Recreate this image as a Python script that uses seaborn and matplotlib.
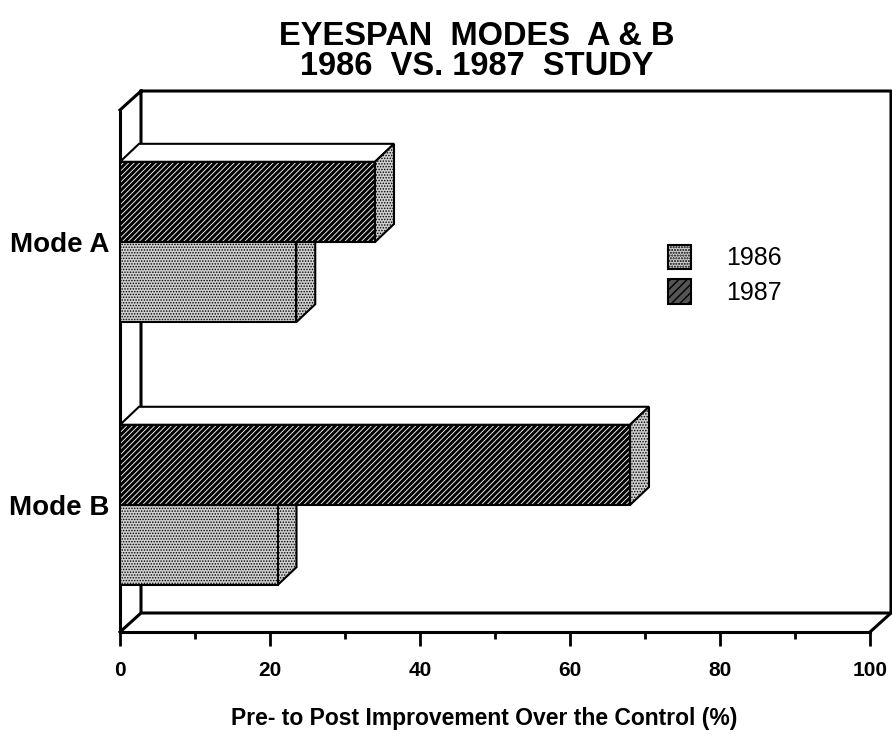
import matplotlib
matplotlib.use("Agg")
import matplotlib.pyplot as plt
import seaborn as sns
import pandas as pd
import numpy as np
from matplotlib.patches import Polygon, Patch
from matplotlib.lines import Line2D

# ---- data ----
modes = ["Mode A", "Mode B"]
years = ["1987", "1986"]
values_1986 = [23.5, 21.0]
values_1987 = [34.0, 68.0]
x_ticks = [0, 20, 40, 60, 80, 100]
title = "EYESPAN  MODES  A & B\n1986  VS. 1987  STUDY"
xlabel = "Pre- to Post Improvement Over the Control (%)"

df = pd.DataFrame({
    "mode": modes * 2,
    "year": ["1986"] * 2 + ["1987"] * 2,
    "value": values_1986 + values_1987,
})

sns.set_style("white")
plt.rcParams["font.family"] = ["Liberation Sans", "DejaVu Sans"]
plt.rcParams["hatch.linewidth"] = 1.0
for k in ["text.color", "axes.labelcolor", "xtick.color", "ytick.color"]:
    plt.rcParams[k] = "black"

fig = plt.figure(figsize=(8.92, 7.38), dpi=100)
ax = fig.add_axes([120 / 892, 1 - 632 / 738, 750 / 892, 522 / 738])

sns.barplot(data=df, y="mode", x="value", hue="year", hue_order=years,
            order=modes, orient="h", width=0.61, gap=0, ax=ax,
            edgecolor="black", linewidth=1.5, legend=False, saturation=1)

ax.set_xlim(0, 100)
ax.set_ylim(1.483, -0.502)

STRIPE = dict(facecolor="white", hatch="//////", hlw=2.2)
DOTS = dict(facecolor="#cfcfcf", hatch="......", hlw=0.7)
STYLE = {"1987": STRIPE, "1986": DOTS}


def style_patch(p, st):
    p.set_facecolor(st["facecolor"])
    p.set_hatch(st["hatch"])
    p.set_edgecolor("black")
    p.set_linewidth(1.5)
    if hasattr(p, "set_hatch_linewidth"):
        p.set_hatch_linewidth(st["hlw"])
    else:
        p._hatch_linewidth = st["hlw"]


bars = [p for p in ax.patches]
fig.canvas.draw()
toD = ax.transData
inv = ax.transData.inverted()


def off(pt, dx, dy):
    d = toD.transform(pt)
    return inv.transform((d[0] + dx, d[1] + dy))


DX, DY = 19, 18
for i, p in enumerate(bars):
    yr = years[i // len(modes)]
    style_patch(p, STYLE[yr])
    x0 = p.get_x()
    x1 = x0 + p.get_width()
    ytop = p.get_y()
    ybot = ytop + p.get_height()
    side = [(x1, ytop), (x1, ybot), tuple(off((x1, ybot), DX, DY)), tuple(off((x1, ytop), DX, DY))]
    sp = Polygon(side, closed=True, clip_on=False, zorder=3)
    ax.add_patch(sp)
    style_patch(sp, DOTS)
    top = [(x0, ytop), (x1, ytop), tuple(off((x1, ytop), DX, DY)), tuple(off((x0, ytop), DX, DY))]
    ax.add_patch(Polygon(top, closed=True, clip_on=False, zorder=2.5,
                         facecolor="white", edgecolor="black", linewidth=1.5))
    p.set_zorder(4)

# ---- walls ----
WX, WY = 21, 19
y_top, y_bot = -0.502, 1.483
lw = 2.2


def line(pts):
    xs, ys = zip(*pts)
    ax.add_line(Line2D(xs, ys, color="black", lw=lw, clip_on=False, zorder=1,
                       solid_capstyle="projecting"))


b_tl = tuple(off((0, y_top), WX, WY))
b_bl = tuple(off((0, y_bot), WX, WY))
b_br = tuple(off((100, y_bot), WX, WY))
b_tr = tuple(off((100, y_top), WX, WY))
line([(0, y_top), b_tl, b_tr, b_br, b_bl, b_tl])
line([(0, y_bot), b_bl])
line([(100, y_bot), b_br])
line([(0, y_top), (0, y_bot), (100, y_bot)])

for s in ax.spines.values():
    s.set_visible(False)

ax.set_xticks(x_ticks)
ax.set_xticks(np.arange(10, 100, 20), minor=True)
ax.tick_params(axis="x", which="major", direction="out", length=10, width=2,
               labelsize=15, pad=11, color="black")
ax.tick_params(axis="x", which="minor", direction="out", length=5, width=2, color="black")
ax.tick_params(axis="x", which="both", bottom=True)
for lab in ax.get_xticklabels():
    lab.set_fontweight("bold")
ax.tick_params(axis="y", length=0, labelsize=20, pad=8)
for lab in ax.get_yticklabels():
    lab.set_fontweight("bold")
ax.set_ylabel("")
ax.set_xlabel(xlabel, fontsize=16.5, fontweight="bold", labelpad=19)
ax.xaxis.label.set_x(0.486)

fig.text(0.535, 0.972, title, ha="center", va="top", fontsize=23.5,
         fontweight="bold", linespacing=0.98)

h1 = Patch(edgecolor="black", linewidth=1.5)
h2 = Patch(edgecolor="black", linewidth=1.5)
style_patch(h1, DOTS)
style_patch(h2, dict(facecolor="#555555", hatch="////", hlw=2.0))
h2.set_edgecolor("black")
fig.legend([h1, h2], ["1986", "1987"], loc="upper left",
           bbox_to_anchor=(645 / 892, 1 - 222 / 738), frameon=False,
           fontsize=18, handlelength=0.95, handleheight=1.15, handletextpad=1.4,
           labelspacing=0.35)

fig.savefig("out.png", dpi=100)
